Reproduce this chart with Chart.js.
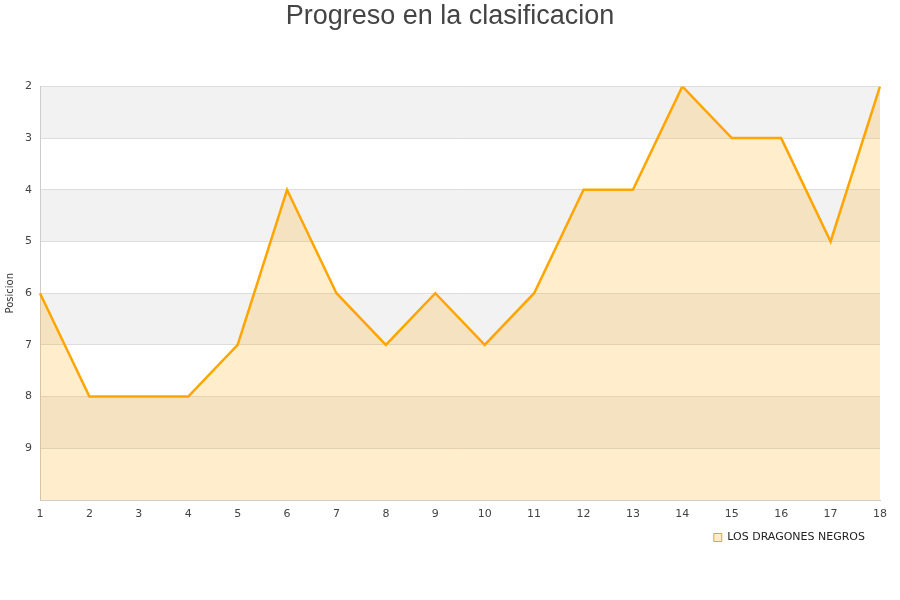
<!DOCTYPE html>
<html>
<head>
<meta charset="utf-8">
<script src="https://cdn.jsdelivr.net/npm/chart.js@4.4.1/dist/chart.umd.min.js"></script>
<style>
  body { margin: 0; background: #fff; }
  #wrap { width: 900px; height: 600px; }
</style>
</head>
<body>
<div id="wrap"><canvas id="myChart" width="900" height="600"></canvas></div>
<script>
// jornadas y posiciones
let jornadas = ['1','2','3','4','5','6','7','8','9','10','11','12','13','14','15','16','17','18'];
let posiciones = [6, 8, 8, 8, 7, 4, 6, 7, 6, 7, 6, 4, 4, 2, 3, 3, 5, 2];
let equipo = 'LOS DRAGONES NEGROS';
let minPos = 2;
let maxPos = 10;

// franjas grises alternas
let bandas = {
  id: 'bandas',
  beforeDraw: (chart) => {
    let ctx = chart.ctx;
    let area = chart.chartArea;
    let y = chart.scales.y;
    ctx.save();
    ctx.fillStyle = '#f2f2f2';
    for (let v = minPos; v < maxPos; v += 2) {
      let top = y.getPixelForValue(v);
      let bottom = y.getPixelForValue(v + 1);
      ctx.fillRect(area.left, top, area.right - area.left, bottom - top);
    }
    ctx.restore();
  }
};

new Chart(document.getElementById('myChart'), {
  type: 'line',
  data: {
    labels: jornadas,
    datasets: [
      {
        label: equipo,
        data: posiciones,
        borderColor: '#ffa500',
        backgroundColor: 'rgba(255,165,0,0.2)',
        borderWidth: 2.5,
        pointRadius: 0,
        tension: 0,
        fill: { value: maxPos }
      }
    ]
  },
  options: {
    responsive: false,
    animation: false,
    layout: { padding: { left: 20, right: 20, top: 0, bottom: 47 } },
    plugins: {
      title: {
        display: true,
        text: 'Progreso en la clasificacion',
        color: '#444',
        font: { family: 'Liberation Sans', size: 27, weight: 'normal' },
        padding: { top: 0, bottom: 54 }
      },
      legend: {
        position: 'bottom',
        align: 'end',
        labels: {
          boxWidth: 8,
          boxHeight: 8,
          color: '#222',
          padding: 15,
          font: { family: 'DejaVu Sans', size: 11 },
          generateLabels: (chart) => {
            let items = Chart.defaults.plugins.legend.labels.generateLabels(chart);
            items.forEach((it) => { it.lineWidth = 1; it.strokeStyle = '#d9a441'; });
            return items;
          }
        }
      },
      tooltip: { enabled: false }
    },
    scales: {
      x: {
        offset: false,
        grid: { display: false, drawTicks: false },
        border: { color: '#ccc' },
        ticks: { color: '#444', padding: 8, maxRotation: 0, font: { family: 'DejaVu Sans', size: 11 } },
        afterFit: (scale) => { scale.height = 17; }
      },
      y: {
        reverse: true,
        min: minPos,
        max: maxPos,
        grid: { color: '#dddddd', drawTicks: false },
        border: { color: '#ccc' },
        title: {
          display: true,
          text: 'Posicion',
          color: '#333',
          padding: { top: -16, bottom: 0 },
          font: { family: 'DejaVu Sans', size: 10 }
        },
        ticks: {
          stepSize: 1,
          padding: 8,
          color: '#444',
          font: { family: 'DejaVu Sans', size: 11 },
          callback: (v) => v === maxPos ? '' : v
        },
        afterFit: (scale) => { scale.width = 20; }
      }
    }
  },
  plugins: [bandas]
});
</script>
</body>
</html>
